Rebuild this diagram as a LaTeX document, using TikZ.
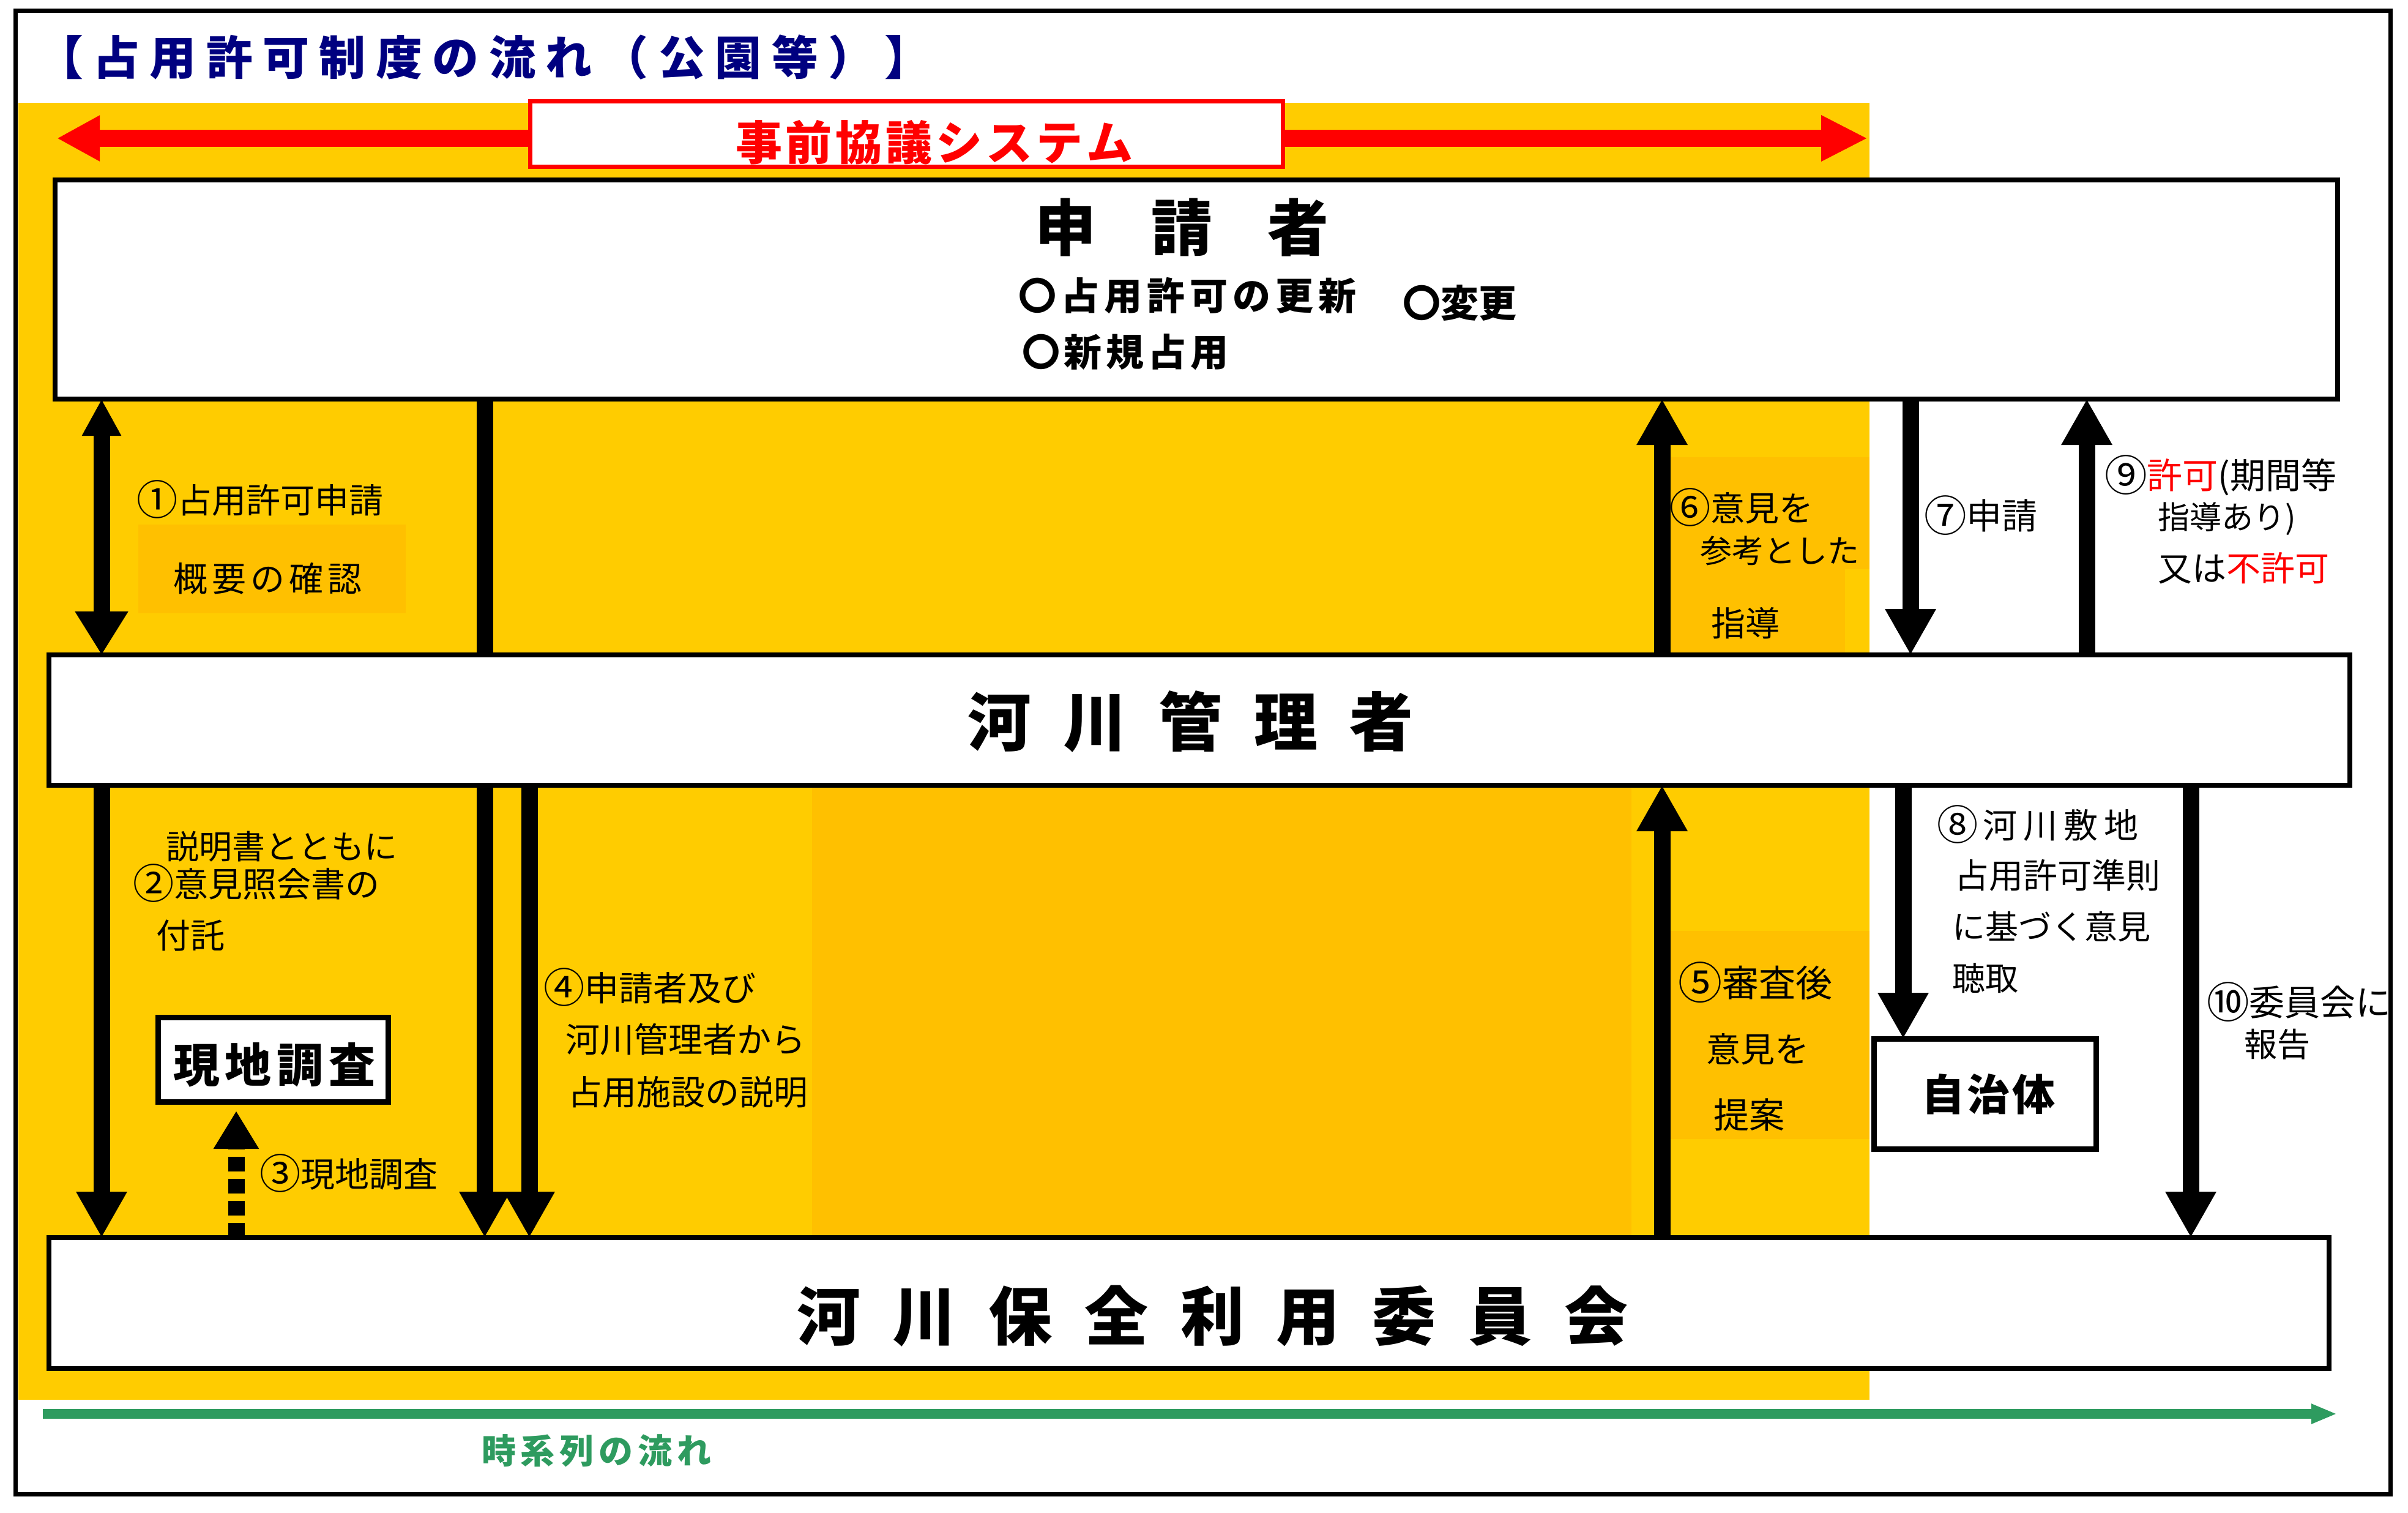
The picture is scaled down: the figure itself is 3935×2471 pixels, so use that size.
\documentclass[tikz,border=0pt]{standalone}
\usepackage{graphicx}
\usepackage{fontspec}
\setmainfont{Noto Sans CJK JP}
\usetikzlibrary{arrows.meta}
\definecolor{ylw}{HTML}{FFCC00}
\definecolor{org}{HTML}{FFC000}
\definecolor{navy}{HTML}{000080}
\definecolor{grn}{HTML}{2E9B5F}
\definecolor{rd}{HTML}{FF0000}
\newcommand\fsz[1]{\fontsize{#1}{#1}\selectfont}
\newcommand\lsp[2]{\def\lspk{#1}\lspfirst#2\relax}
\def\lspfirst#1{#1\lspaux}
\def\lspaux#1{\ifx\relax#1\else\kern\lspk\relax#1\expandafter\lspaux\fi}
\newcommand\cnum[1]{\raisebox{-0.07em}{\scalebox{1.2}{#1}}}
\begin{document}
\begin{tikzpicture}[x=0.25pt,y=-0.25pt,
  box/.style={draw, line width=2pt, fill=white, inner sep=0pt, outer sep=0pt, rectangle},
  txt/.style={inner sep=0pt, outer sep=0pt, anchor=base west, text=black},
  lbl/.style={txt, font=\fsz{14pt}},
  arr/.style={line width=6.75pt, -{Triangle[length=18.75pt,width=19.5pt]}},
  barline/.style={line width=6.75pt}]
\useasboundingbox (0,0) rectangle (3935,2471);
\fill[white] (0,0) rectangle (3935,2471);
% yellow zone
\fill[ylw] (30,168) rectangle (3055,2287);
\fill[org] (1327,1288) rectangle (2666,2020);
\fill[org] (226,857) rectangle (663,1002);
\fill[org] (2731,747) rectangle (3055,930);
\fill[org] (2731,930) rectangle (3015,1075);
\fill[org] (2729,1521) rectangle (3055,1861);
% outer frame
\draw[line width=1.75pt] (25,18) rectangle (3906,2441);
% title
\node[txt, text=navy, font=\fsz{19pt}\bfseries] (title) at (60,123) {\lsp{4.1pt}{【占用許可制度の流れ（公園等）】}};
% red system arrow
\coordinate (rl) at (93,226);
\coordinate (rr) at (3052,226);
\draw[color=rd, line width=7pt, {Triangle[length=17.5pt,width=17.5pt]}-{Triangle[length=19pt,width=17.5pt]}] (rl) -- (rr);
\node[box, draw=rd, line width=1.75pt, minimum width=307.5pt, minimum height=26.75pt] (sys) at (1481,219.5) {};
\node[txt, text=rd, font=\fsz{19pt}\bfseries] (systxt) at (1202,262) {\lsp{1.5pt}{事前協議システム}};
% boxes
\node[box, minimum width=932.5pt, minimum height=89.5pt] (app) at (1955,473) {};
\node[box, minimum width=940pt, minimum height=53.25pt] (mgr) at (1960,1176.5) {};
\node[box, minimum width=931.5pt, minimum height=53.5pt] (com) at (1943,2129) {};
\node[box, line width=2.25pt, minimum width=94pt, minimum height=34.5pt] (gen) at (446,1731) {};
\node[box, line width=2.25pt, minimum width=90.75pt, minimum height=45pt] (jic) at (3243.5,1787) {};
% box texts
\node[txt, font=\fsz{25pt}\bfseries] (apptxt) at (1691,410) {\lsp{22.5pt}{申請者}};
\node[txt, font=\fsz{15.5pt}\bfseries] (appa) at (1664,506) {\lsp{2pt}{〇占用許可の更新}};
\node[txt, font=\fsz{15.5pt}\bfseries] (appb) at (2292,518) {〇変更};
\node[txt, font=\fsz{15.5pt}\bfseries] (appc) at (1670,598) {\lsp{1.75pt}{〇新規占用}};
\node[txt, font=\fsz{26pt}\bfseries] (mgrtxt) at (1581,1218) {\lsp{13pt}{河川管理者}};
\node[txt, font=\fsz{26pt}\bfseries] (comtxt) at (1302,2189) {\lsp{13.2pt}{河川保全利用委員会}};
\node[txt, font=\fsz{19pt}\bfseries] (gentxt) at (283,1768) {\lsp{2.2pt}{現地調査}};
\node[txt, font=\fsz{17.5pt}\bfseries] (jictxt) at (3140,1814) {\lsp{1pt}{自治体}};
% arrow x positions
\coordinate (x1) at (166,0);
\coordinate (xl) at (792,0);
\coordinate (x4b) at (865,0);
\coordinate (x6) at (2716,0);
\coordinate (x7) at (3122,0);
\coordinate (x9) at (3410,0);
\coordinate (x8) at (3110,0);
\coordinate (x10) at (3580,0);
\coordinate (x3) at (386,0);
% connectors between applicant and manager
\draw[line width=6.75pt, {Triangle[length=15pt,width=15pt]}-{Triangle[length=17.75pt,width=20.5pt]}] (app.south -| x1) -- (mgr.north -| x1);
\draw[barline] (app.south -| xl) -- (mgr.north -| xl);
\draw[arr] (mgr.north -| x6) -- (app.south -| x6);
\draw[arr] (app.south -| x7) -- (mgr.north -| x7);
\draw[arr] (mgr.north -| x9) -- (app.south -| x9);
% connectors between manager and committee
\draw[arr] (mgr.south -| x1) -- (com.north -| x1);
\draw[arr] (mgr.south -| xl) -- (com.north -| xl);
\draw[arr] (mgr.south -| x4b) -- (com.north -| x4b);
\draw[arr] (com.north -| x6) -- (mgr.south -| x6);
\draw[arr] (mgr.south -| x8) -- (jic.north -| x8);
\draw[arr] (mgr.south -| x10) -- (com.north -| x10);
\draw[line width=6.75pt, dash pattern=on 6pt off 3pt, -{Triangle[length=15.5pt,width=17.5pt]}, shorten >=3.75pt] (com.north -| x3) -- (gen.south -| x3);
% time arrow
\coordinate (tl) at (70,2310);
\coordinate (tr) at (3819,2310);
\draw[color=grn, line width=4pt, -{Triangle[length=10.5pt,width=7.5pt]}] (tl) -- (tr);
\node[txt, text=grn, font=\fsz{14pt}\bfseries] (time) at (787,2391) {\lsp{2pt}{時系列の流れ}};
% labels left
\node[lbl] (l1a) at (223,838) {\cnum{①}占用許可申請};
\node[lbl] (l1b) at (283,966) {\lsp{1.75pt}{概要の確認}};
\node[lbl, font=\fsz{13.5pt}] (l2a) at (271,1403) {説明書とともに};
\node[lbl] (l2b) at (217,1465) {\cnum{②}意見照会書の};
\node[lbl] (l2c) at (255,1549) {付託};
\node[lbl] (l3) at (424,1939) {\cnum{③}現地調査};
\node[lbl] (l4a) at (888,1635) {\cnum{④}申請者及び};
\node[lbl] (l4b) at (924,1719) {河川管理者から};
\node[lbl] (l4c) at (928,1805) {占用施設の説明};
% labels right
\node[lbl] (l6a) at (2728,851) {\cnum{⑥}意見を};
\node[lbl, font=\fsz{13pt}] (l6b) at (2778,919) {参考とした};
\node[lbl] (l6c) at (2796,1039) {指導};
\node[lbl, font=\fsz{14.5pt}] (l7) at (3144,864) {\cnum{⑦}申請};
\node[lbl, font=\fsz{14.5pt}] (l9a) at (3439,798) {\cnum{⑨}\textcolor{rd}{許可}(期間等};
\node[lbl, font=\fsz{13pt}] (l9b) at (3526,864) {指導あり)};
\node[lbl] (l9c) at (3526,949) {又は\textcolor{rd}{不許可}};
\node[lbl, font=\fsz{14pt}] (l8a) at (3165,1369) {\cnum{⑧}\kern2pt\lsp{2.5pt}{河川敷地}};
\node[lbl] (l8b) at (3194,1451) {占用許可準則};
\node[lbl, font=\fsz{13.5pt}] (l8c) at (3190,1534) {に基づく意見};
\node[lbl, font=\fsz{13.5pt}] (l8d) at (3190,1618) {聴取};
\node[lbl, font=\fsz{15pt}] (l5a) at (2742,1628) {\cnum{⑤}審査後};
\node[lbl] (l5b) at (2788,1735) {意見を};
\node[lbl, font=\fsz{14.5pt}] (l5c) at (2800,1843) {提案};
\node[lbl, font=\fsz{14.5pt}] (l10a) at (3606,1659) {\cnum{⑩}委員会に};
\node[lbl, font=\fsz{13.5pt}] (l10b) at (3667,1726) {報告};
\end{tikzpicture}
\end{document}
